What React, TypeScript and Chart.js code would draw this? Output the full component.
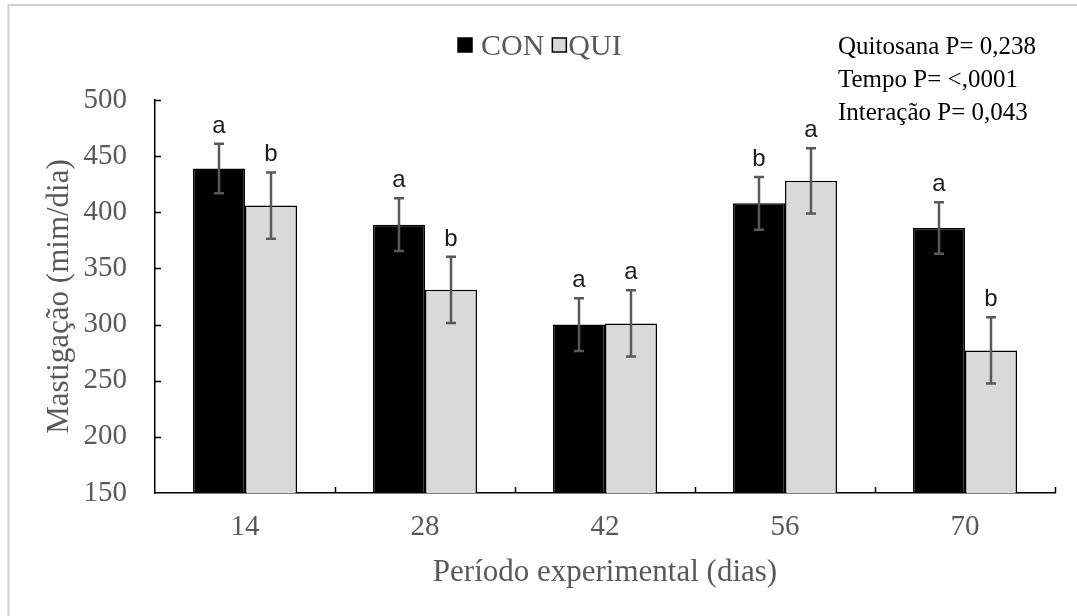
import React, { useEffect, useRef } from 'react';
import { Chart, registerables } from 'chart.js';

Chart.register(...registerables);

// ---- Data ----
const categories = ['14', '28', '42', '56', '70'];
const seriesNames = ['CON', 'QUI'];
const conValues = [439, 389, 300, 408, 386];
const quiValues = [406, 331, 301, 428, 277];
const conErrors = [22, 23.5, 23.5, 23.5, 23];
const quiErrors = [29.5, 29.5, 29.5, 29, 29.5];
const conLetters = ['a', 'a', 'a', 'b', 'a'];
const quiLetters = ['b', 'b', 'a', 'a', 'b'];
const statsLines = ['Quitosana P= 0,238', 'Tempo P= <,0001', 'Interação P= 0,043'];
const yTitle = 'Mastigação (mim/dia)';
const xTitle = 'Período experimental (dias)';
const yMin = 150;
const yMax = 500;
const yStep = 50;

const SERIF = '"Liberation Serif", "Times New Roman", serif';
const SANS = '"Liberation Sans", Arial, sans-serif';
const GREY_TEXT = '#595959';
const CON_COLOR = '#000000';
const QUI_COLOR = '#d9d9d9';

const errorSets = [conErrors, quiErrors];
const letterSets = [conLetters, quiLetters];
const fillColors = [CON_COLOR, QUI_COLOR];

const decorPlugin = {
  id: 'decor',
  beforeDraw(chart: any) {
    const ctx = chart.ctx;
    ctx.save();
    ctx.fillStyle = '#ffffff';
    ctx.fillRect(0, 0, chart.width, chart.height);
    ctx.strokeStyle = '#d0d0d0';
    ctx.lineWidth = 2;
    ctx.beginPath();
    ctx.moveTo(8.5, chart.height);
    ctx.lineTo(8.5, 5);
    ctx.lineTo(chart.width, 5);
    ctx.stroke();
    ctx.restore();
  },
  afterDatasetsDraw(chart: any) {
    const ctx = chart.ctx;
    const yScale = chart.scales.y;
    ctx.save();
    chart.data.datasets.forEach((ds: any, di: number) => {
      const meta = chart.getDatasetMeta(di);
      meta.data.forEach((el: any, i: number) => {
        const v = ds.data[i];
        const e = errorSets[di][i];
        const yTop = yScale.getPixelForValue(v + e);
        const yBot = yScale.getPixelForValue(v - e);
        const x = el.x;
        ctx.strokeStyle = '#595959';
        ctx.lineWidth = 2.5;
        ctx.beginPath();
        ctx.moveTo(x, yTop);
        ctx.lineTo(x, yBot);
        ctx.moveTo(x - 5, yTop);
        ctx.lineTo(x + 5, yTop);
        ctx.moveTo(x - 5, yBot);
        ctx.lineTo(x + 5, yBot);
        ctx.stroke();
        ctx.fillStyle = '#1a1a1a';
        ctx.font = `24px ${SANS}`;
        ctx.textAlign = 'center';
        ctx.textBaseline = 'alphabetic';
        ctx.fillText(letterSets[di][i], x, yTop - 11);
      });
    });
    ctx.restore();
  },
  afterDraw(chart: any) {
    const ctx = chart.ctx;
    const { left, right, bottom } = chart.chartArea;
    const yScale = chart.scales.y;
    const xScale = chart.scales.x;
    ctx.save();
    ctx.strokeStyle = '#000000';
    ctx.lineWidth = 1.5;
    ctx.beginPath();
    for (let v = yMin + yStep; v <= yMax; v += yStep) {
      const y = Math.round(yScale.getPixelForValue(v)) + 0.5;
      ctx.moveTo(left, y);
      ctx.lineTo(left + 6, y);
    }
    for (let i = 0; i < categories.length; i++) {
      const x =
        i < categories.length - 1
          ? (xScale.getPixelForValue(i) + xScale.getPixelForValue(i + 1)) / 2
          : right;
      ctx.moveTo(Math.round(x) + 0.5, bottom);
      ctx.lineTo(Math.round(x) + 0.5, bottom - 6);
    }
    ctx.stroke();

    // legend
    ctx.font = `30px ${SERIF}`;
    ctx.textBaseline = 'alphabetic';
    ctx.textAlign = 'left';
    let lx = 458;
    const gaps = [9, 2];
    seriesNames.forEach((name, i) => {
      ctx.fillStyle = fillColors[i];
      ctx.fillRect(lx, 38, 14, 14);
      ctx.strokeStyle = '#000000';
      ctx.lineWidth = 1.5;
      ctx.strokeRect(lx, 38, 14, 14);
      ctx.fillStyle = GREY_TEXT;
      ctx.fillText(name, lx + 14 + gaps[i], 55);
      lx += 14 + gaps[i] + ctx.measureText(name).width + 8;
    });

    // stats
    ctx.font = `25px ${SERIF}`;
    ctx.fillStyle = '#000000';
    const baselines = [54, 87, 120];
    statsLines.forEach((t, i) => ctx.fillText(t, 838, baselines[i]));
    ctx.restore();
  },
};

export default function App() {
  const canvasRef = useRef<HTMLCanvasElement | null>(null);

  useEffect(() => {
    const canvas = canvasRef.current;
    if (!canvas) return;
    const chart = new Chart(canvas, {
      type: 'bar',
      data: {
        labels: categories,
        datasets: [
          {
            label: seriesNames[0],
            data: conValues,
            backgroundColor: CON_COLOR,
            borderColor: '#000000',
            borderWidth: 1.5,
          },
          {
            label: seriesNames[1],
            data: quiValues,
            backgroundColor: QUI_COLOR,
            borderColor: '#000000',
            borderWidth: 1.5,
          },
        ],
      },
      options: {
        responsive: false,
        animation: false,
        events: [],
        layout: { padding: { top: 100, right: 22, left: 0, bottom: 0 } },
        categoryPercentage: 0.578,
        barPercentage: 1,
        plugins: {
          legend: { display: false },
          tooltip: { enabled: false },
        },
        scales: {
          x: {
            grid: { display: false, drawTicks: false },
            border: { display: true, color: '#000000', width: 1.5 },
            ticks: {
              color: GREY_TEXT,
              font: { family: SERIF, size: 29 },
              padding: 17,
              maxRotation: 0,
            },
            title: {
              display: true,
              text: xTitle,
              color: GREY_TEXT,
              font: { family: SERIF, size: 31, lineHeight: 1.2 },
              padding: { top: 0, bottom: 24.4 },
            },
            afterFit(scale: any) {
              scale.height = 123;
            },
          },
          y: {
            min: yMin,
            max: yMax,
            grid: { display: false, drawTicks: false },
            border: { display: true, color: '#000000', width: 1.5 },
            ticks: {
              stepSize: yStep,
              color: GREY_TEXT,
              font: { family: SERIF, size: 29 },
              padding: 28,
            },
            title: {
              display: true,
              text: yTitle,
              color: GREY_TEXT,
              font: { family: SERIF, size: 31, lineHeight: 1.2 },
              padding: { top: 41.4, bottom: 0 },
            },
            afterFit(scale: any) {
              scale.width = 155;
            },
          },
        },
      },
      plugins: [decorPlugin],
    } as any);
    return () => chart.destroy();
  }, []);

  return (
    <div style={{ position: 'absolute', left: 0, top: 0, width: 1077, height: 616, background: '#fff' }}>
      <canvas ref={canvasRef} width={1077} height={616} style={{ display: 'block' }} />
    </div>
  );
}
